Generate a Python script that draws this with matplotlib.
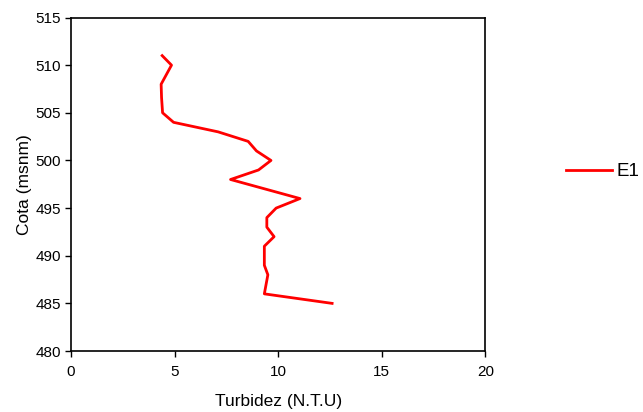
import matplotlib
matplotlib.use("Agg")
import matplotlib.pyplot as plt

plt.rcParams['font.family'] = ['Liberation Sans', 'DejaVu Sans']

# turbidity profile, station E1
turbidez = [4.4, 4.85, 4.6, 4.35, 4.37, 4.42, 4.95, 7.1, 8.55, 8.95, 9.65, 9.05, 7.7,
            11.05, 9.9, 9.45, 9.45, 9.8, 9.33, 9.33, 9.5, 9.33, 12.6]
cota = [511, 510, 509, 508, 506.6, 505, 504, 503, 502, 501, 500, 499, 498,
        496, 495, 494, 493, 492, 491, 489, 488, 486, 485]

fig = plt.figure(figsize=(6.43, 4.12), dpi=100)
ax = fig.add_axes([0.1104, 0.148, 0.6446, 0.8095])
ax.plot(turbidez, cota, color="#ff0000", lw=2, label="E1")
ax.set_xlim(0, 20)
ax.set_ylim(480, 515)
ax.set_xticks([0, 5, 10, 15, 20])
ax.set_yticks(range(480, 516, 5))
ax.tick_params(direction="out", length=4, width=1, labelsize=11, pad=3)
ax.tick_params(axis="x", pad=6)
for s in ax.spines.values():
    s.set_linewidth(1.2)
ax.set_xlabel("Turbidez (N.T.U)", fontsize=12.5, labelpad=11)
ax.set_ylabel("Cota (msnm)", fontsize=12.5, labelpad=3)
fig.legend(loc="center left", bbox_to_anchor=(0.880, 0.583), frameon=False,
           fontsize=13.5, handlelength=2.45, handletextpad=0.27,
           borderpad=0, borderaxespad=0)
fig.savefig("out.png", dpi=100)
